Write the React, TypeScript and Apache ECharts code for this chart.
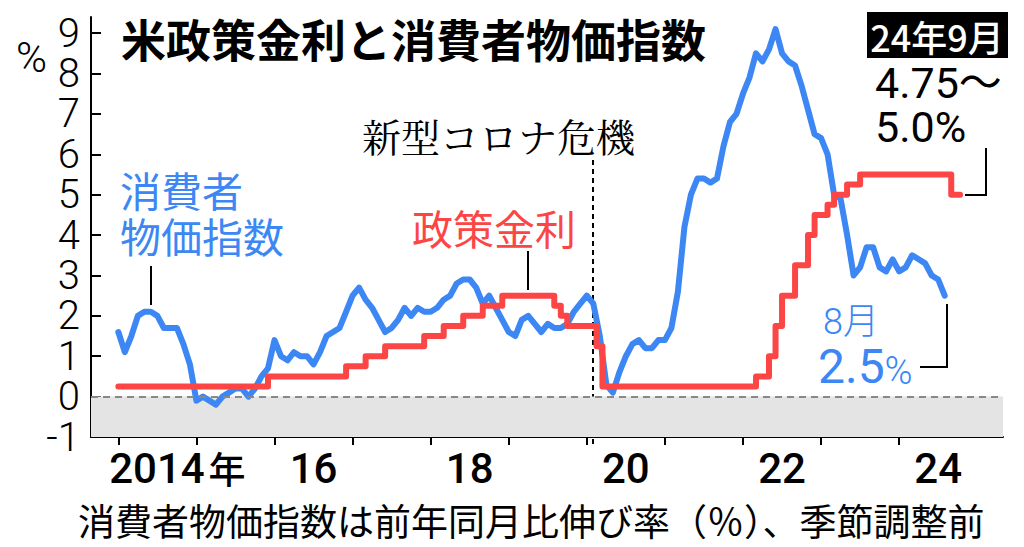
import React, { useEffect, useRef } from 'react';
import * as echarts from 'echarts';

// US CPI, year-on-year % (monthly, not seasonally adjusted)
const cpiStartYear = 2014;
const cpi2014 = [1.6, 1.1, 1.5, 2.0, 2.1, 2.1, 2.0, 1.7, 1.7, 1.7, 1.3, 0.8];
const cpi2015 = [-0.1, 0.0, -0.1, -0.2, 0.0, 0.1, 0.2, 0.2, 0.0, 0.2, 0.5, 0.7];
const cpi2016 = [1.4, 1.0, 0.9, 1.1, 1.0, 1.0, 0.8, 1.1, 1.5, 1.6, 1.7, 2.1];
const cpi2017 = [2.5, 2.7, 2.4, 2.2, 1.9, 1.6, 1.7, 1.9, 2.2, 2.0, 2.2, 2.1];
const cpi2018 = [2.1, 2.2, 2.4, 2.5, 2.8, 2.9, 2.9, 2.7, 2.3, 2.5, 2.2, 1.9];
const cpi2019 = [1.6, 1.5, 1.9, 2.0, 1.8, 1.6, 1.8, 1.7, 1.7, 1.8, 2.1, 2.3];
const cpi2020 = [2.5, 2.3, 1.5, 0.3, 0.1, 0.6, 1.0, 1.3, 1.4, 1.2, 1.2, 1.4];
const cpi2021 = [1.4, 1.7, 2.6, 4.2, 5.0, 5.4, 5.4, 5.3, 5.4, 6.2, 6.8, 7.0];
const cpi2022 = [7.5, 7.9, 8.5, 8.3, 8.6, 9.1, 8.5, 8.3, 8.2, 7.7, 7.1, 6.5];
const cpi2023 = [6.4, 6.0, 5.0, 4.9, 4.0, 3.0, 3.2, 3.7, 3.7, 3.2, 3.1, 3.4];
const cpi2024 = [3.1, 3.2, 3.5, 3.4, 3.3, 3.0, 2.9, 2.5];
const cpiByYear = [cpi2014, cpi2015, cpi2016, cpi2017, cpi2018, cpi2019, cpi2020, cpi2021, cpi2022, cpi2023, cpi2024];

// Fed policy rate (upper bound of target range): change dates (decimal year) and values (%)
const rateDates = [2014.0, 2015.917, 2016.917, 2017.167, 2017.417, 2017.917, 2018.167, 2018.417, 2018.667, 2018.917,
  2019.583, 2019.667, 2019.75, 2020.125, 2020.2, 2022.167, 2022.333, 2022.417, 2022.5, 2022.667, 2022.833,
  2022.917, 2023.083, 2023.167, 2023.333, 2023.5, 2024.667, 2024.78];
const rateValues = [0.25, 0.5, 0.75, 1.0, 1.25, 1.5, 1.75, 2.0, 2.25, 2.5,
  2.25, 2.0, 1.75, 1.25, 0.25, 0.5, 1.0, 1.75, 2.5, 3.25, 4.0,
  4.5, 4.75, 5.0, 5.25, 5.5, 5.0, 5.0];

const yTicks = [-1, 0, 1, 2, 3, 4, 5, 6, 7, 8, 9];
const xTickYears = [2014, 2015, 2016, 2017, 2018, 2019, 2020, 2021, 2022, 2023, 2024];
const xLabelYears = [2014, 2016, 2018, 2020, 2022, 2024];

const BLUE = '#3c87f4';
const RED = '#fc4646';
const JP = '"Noto Sans CJK JP", sans-serif';
const NUM = 'Roboto, "Noto Sans CJK JP", sans-serif';

export default function App() {
  const ref = useRef<HTMLDivElement>(null);
  useEffect(() => {
    if (!ref.current) return;
    const chart = echarts.init(ref.current, null, { renderer: 'svg' });

    const cpiData: number[][] = [];
    cpiByYear.forEach((vals, yi) => {
      vals.forEach((v, mi) => cpiData.push([cpiStartYear + yi + mi / 12, v]));
    });
    const rateData = rateDates.map((d, i) => [d, rateValues[i]]);

    const option: any = {
      animation: false,
      backgroundColor: '#fff',
      grid: { left: 91, right: 21, top: 17, bottom: 110, containLabel: false },
      xAxis: {
        type: 'value',
        min: 2013.65,
        max: 2025.33,
        splitLine: { show: false },
        axisLine: { show: true, onZero: false, lineStyle: { color: '#000', width: 2 } },
        axisTick: { show: true, inside: false, length: 8, lineStyle: { color: '#000', width: 2 }, customValues: xTickYears },
        axisLabel: {
          customValues: xLabelYears.map((y) => y + 0.5),
          showMinLabel: true,
          showMaxLabel: true,
          margin: 10,
          color: '#000',
          fontFamily: NUM,
          fontWeight: 500,
          fontSize: 42,
          formatter: (v: number) => {
            const y = Math.floor(v);
            if (y === xLabelYears[0]) return '{d|' + y + '}{k|年}';
            return '{n|' + String(y % 100) + '}';
          },
          rich: {
            d: { fontFamily: NUM, fontWeight: 500, fontSize: 42, color: '#000', padding: [0, 0, 0, 40] },
            k: { fontFamily: JP, fontWeight: 500, fontSize: 37, color: '#000', padding: [0, 0, 0, 4] },
            n: { fontFamily: NUM, fontWeight: 500, fontSize: 42, color: '#000' },
          },
        },
      },
      yAxis: {
        type: 'value',
        min: -1,
        max: 9.4,
        splitLine: { show: false },
        axisLine: { show: true, lineStyle: { color: '#000', width: 2 } },
        axisTick: { show: true, inside: true, length: 10, lineStyle: { color: '#000', width: 2 }, customValues: yTicks },
        axisLabel: {
          customValues: yTicks,
          showMinLabel: true,
          showMaxLabel: true,
          hideOverlap: false,
          margin: 11,
          color: '#000',
          fontFamily: NUM,
          fontWeight: 300,
          fontSize: 40,
          formatter: (v: number) => String(v),
        },
      },
      series: [
        {
          type: 'line',
          data: [],
          z: 1,
          silent: true,
          markArea: {
            silent: true,
            itemStyle: { color: '#e4e4e4' },
            data: [[{ yAxis: -1 }, { yAxis: 0 }]],
          },
          markLine: {
            silent: true,
            symbol: ['none', 'none'],
            label: { show: false },
            lineStyle: { color: '#888', type: [7, 5], width: 2 },
            data: [{ yAxis: 0 }],
          },
        },
        {
          name: '消費者物価指数',
          type: 'line',
          data: cpiData,
          showSymbol: false,
          z: 2,
          lineStyle: { color: BLUE, width: 6, cap: 'round', join: 'round' },
        },
        {
          name: '政策金利',
          type: 'line',
          step: 'end',
          data: rateData,
          showSymbol: false,
          z: 3,
          lineStyle: { color: RED, width: 6, cap: 'round', join: 'round' },
        },
      ],
      graphic: [
        { type: 'text', left: 16, top: 36, style: { text: '%', font: `300 42px ${NUM}`, fill: '#000' } },
        { type: 'text', x: 121, y: 38, style: { text: '米政策金利と消費者物価指数', font: `bold 45px ${JP}`, fill: '#000', verticalAlign: 'middle' } },
        { type: 'text', x: 120, y: 189, style: { text: '消費者', font: `41px ${JP}`, fill: BLUE, verticalAlign: 'middle' } },
        { type: 'text', x: 120, y: 235, style: { text: '物価指数', font: `41px ${JP}`, fill: BLUE, verticalAlign: 'middle' } },
        { type: 'line', shape: { x1: 151, y1: 266, x2: 151, y2: 305 }, style: { stroke: '#000', lineWidth: 2 } },
        { type: 'text', x: 412, y: 227, style: { text: '政策金利', font: `41px ${JP}`, fill: RED, verticalAlign: 'middle' } },
        { type: 'line', shape: { x1: 528, y1: 251, x2: 528, y2: 290 }, style: { stroke: '#000', lineWidth: 2 } },
        { type: 'text', x: 362, y: 135, style: { text: '新型コロナ危機', font: `39px "Noto Serif CJK JP", serif`, fill: '#000', verticalAlign: 'middle' } },
        { type: 'line', shape: { x1: 593, y1: 160, x2: 593, y2: 446 }, style: { stroke: '#000', lineWidth: 2, lineDash: [5, 4] } },
        { type: 'rect', shape: { x: 867, y: 12, width: 141, height: 46 }, style: { fill: '#000' } },
        { type: 'text', x: 937, y: 36, style: { text: '24年9月', font: `500 36px ${JP}`, fill: '#fff', align: 'center', verticalAlign: 'middle' } },
        { type: 'text', x: 875, y: 83, style: { text: '4.75～', font: `43px ${NUM}`, fill: '#000', verticalAlign: 'middle' } },
        { type: 'text', x: 875, y: 127, style: { text: '5.0%', font: `43px ${NUM}`, fill: '#000', verticalAlign: 'middle' } },
        { type: 'polyline', shape: { points: [[986, 148], [986, 195], [965, 195]] }, style: { stroke: '#000', lineWidth: 2, fill: 'none' } },
        { type: 'text', x: 823, y: 322, style: { text: '8月', font: `300 36px ${NUM}`, fill: BLUE, verticalAlign: 'middle' } },
        {
          type: 'text', x: 818, y: 390,
          style: {
            text: '{a|2.5}{b|%}', verticalAlign: 'bottom', fill: BLUE,
            rich: {
              a: { fontFamily: NUM, fontSize: 48, fill: BLUE, verticalAlign: 'bottom' },
              b: { fontFamily: NUM, fontWeight: 300, fontSize: 38, fill: BLUE, verticalAlign: 'bottom' },
            },
          },
        },
        { type: 'polyline', shape: { points: [[947, 304], [947, 367], [920, 367]] }, style: { stroke: '#000', lineWidth: 2, fill: 'none' } },
        { type: 'text', x: 78, y: 520, style: { text: '消費者物価指数は前年同月比伸び率（％）、季節調整前', font: `37px ${JP}`, fill: '#000', verticalAlign: 'middle' } },
      ],
    };
    chart.setOption(option);
    return () => chart.dispose();
  }, []);
  return <div ref={ref} style={{ position: 'fixed', left: 0, top: 0, width: 1024, height: 547 }} />;
}
